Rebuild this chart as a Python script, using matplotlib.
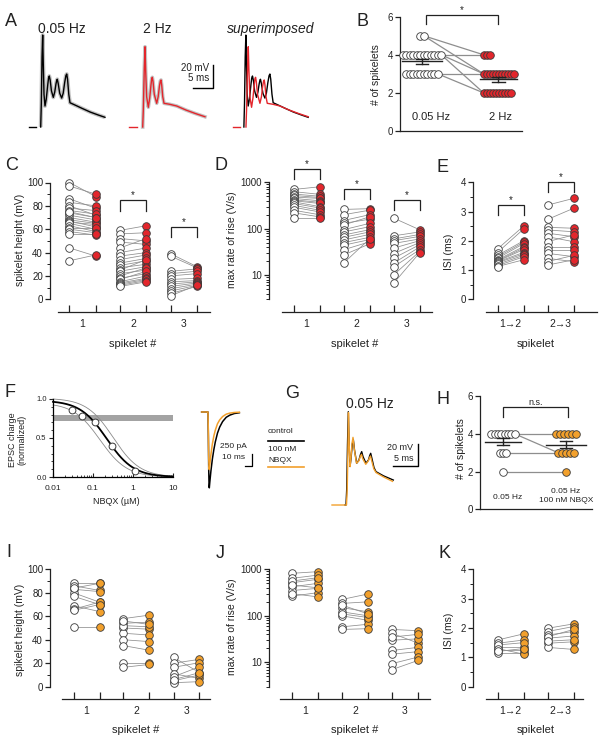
import numpy as np
import matplotlib
matplotlib.use("Agg")
import matplotlib.pyplot as plt
from matplotlib.ticker import MultipleLocator, LogLocator, NullFormatter, FixedLocator, FuncFormatter
from matplotlib.lines import Line2D

plt.rcParams['font.family'] = ['Liberation Sans', 'DejaVu Sans']
plt.rcParams['axes.linewidth'] = 0.9

W, H = 601, 741
fig = plt.figure(figsize=(W / 100, H / 100), dpi=100)

INK = '#222222'
RED = '#e3262c'
ORANGE = '#f2a02c'
LINK = '#8e8e8e'
EDGE = '#3a3a3a'

# ---------------- data ----------------
# A: averaged traces (ms from stimulus onset, mV above baseline)
a_005_t = [0.0, 0.15, 0.32, 0.48, 0.62, 0.8, 1.04, 1.35, 1.7, 1.9, 2.08, 2.3, 2.6, 3.05, 3.4, 3.7,
           3.9, 4.02, 4.25, 4.6, 5.08, 5.45, 5.8, 6.1, 6.3, 6.5, 6.8, 7.09, 8.5, 10.0, 12.0, 14.0, 15.57]
a_005_v = [0.0, 20, 60, 78.8, 55, 28, 18, 24, 36, 42, 43.7, 40, 31, 25.4, 30, 37,
           40.3, 40.9, 37, 29, 24.8, 29, 38, 44, 45.4, 41, 28, 20.8, 18.5, 16, 12.8, 10.2, 8.3]
a_2hz_t = [0.0, 0.15, 0.38, 0.56, 0.72, 0.95, 1.36, 1.7, 2.0, 2.18, 2.33, 2.5, 2.8, 3.39, 3.75, 4.05,
           4.28, 4.43, 4.6, 4.85, 5.16, 6.5, 8.23, 10.5, 12.8, 15.08]
a_2hz_v = [0.0, 15, 50, 68.8, 48, 26, 16.9, 25, 36, 41.5, 42.6, 39, 28, 20.3, 26, 35,
           39.5, 40.3, 36, 26, 20.3, 19.5, 18, 14.5, 11.5, 8.8]

# B: number of spikelets per cell (paired)
b_005 = [5, 5, 4, 4, 4, 4, 4, 4, 4, 4, 4, 4, 4, 4, 3, 3, 3, 3, 3, 3, 3, 3, 3, 3]
b_2hz = [4, 3, 4, 4, 3, 3, 3, 3, 3, 3, 3, 2, 2, 2, 3, 3, 3, 2, 2, 2, 2, 2, 2, 2]
b_labels = ['0.05 Hz', '2 Hz']

# C: spikelet height (mV)
c_ctrl = [[100, 97, 86, 83, 80, 78, 76, 74, 72, 70, 68, 67, 66, 65, 63, 61, 60, 58, 56, 44, 33, 75],
          [59, 56, 52, 49, 44, 40, 37, 34, 31, 29, 27, 25, 24, 22, 20, 18, 17, 15, 14, 13, 12, 11],
          [39, 37, 24, 22, 20, 17, 15, 13, 11, 9, 7, 5, 3]]
c_2hz = [[88, 90, 78, 80, 72, 76, 73, 70, 68, 66, 65, 62, 64, 60, 58, 61, 57, 55, 56, 37, 38, 70],
         [63, 57, 50, 47, 52, 44, 40, 38, 35, 33, 30, 34, 28, 25, 27, 22, 24, 20, 18, 17, 16, 15],
         [28, 27, 26, 24, 22, 18, 16, 15, 14, 13, 12, 11, 12]]
# D: max rate of rise (V/s)
d_ctrl = [[700, 630, 560, 520, 480, 450, 420, 400, 380, 350, 320, 290, 250, 220, 170],
          [260, 200, 150, 130, 120, 95, 85, 73, 65, 57, 50, 44, 35, 27, 18],
          [170, 70, 60, 55, 48, 38, 29, 23, 18, 15, 10, 6.6]]
d_2hz = [[800, 550, 500, 470, 450, 400, 370, 350, 300, 280, 250, 230, 200, 180, 170],
         [270, 250, 200, 160, 180, 130, 110, 95, 85, 75, 65, 58, 52, 47, 60],
         [95, 85, 75, 68, 60, 55, 50, 45, 40, 35, 32, 30]]
# E: inter-spikelet interval (ms)
e_ctrl = [[1.72, 1.6, 1.5, 1.45, 1.4, 1.35, 1.32, 1.3, 1.28, 1.25, 1.2, 1.15, 1.12],
          [3.22, 2.73, 2.46, 2.37, 2.26, 2.14, 1.97, 1.8, 1.69, 1.57, 1.4, 1.29, 1.17]]
e_2hz = [[2.5, 2.4, 2.0, 1.95, 1.9, 1.8, 1.75, 1.7, 1.6, 1.55, 1.5, 1.45, 1.35],
         [3.45, 3.11, 2.43, 2.31, 2.14, 1.97, 2.2, 1.8, 1.69, 1.46, 1.29, 1.5, 1.35]]
spk_labels = ['1', '2', '3']
isi_labels = ['1\u21922', '2\u21923']

# F: NBQX dose-response
f_conc = [0.03, 0.054, 0.11, 0.3, 1.1]
f_charge = [0.86, 0.785, 0.71, 0.40, 0.08]
f_fit = dict(top=0.98, ic50=0.22, n=1.3)
f_ci_hi = dict(top=1.01, ic50=0.32, n=1.3)
f_ci_lo = dict(top=0.95, ic50=0.15, n=1.3)
f_band = (0.72, 0.80)
f_epsc_t = [-8.7, 0.0, 0.5, 1.0, 1.5, 1.8, 2.5, 4, 6, 8, 10, 13, 16, 20, 25, 30, 36, 43]
f_epsc_ctrl = [0, 0, -500, -1200, -1550, -1580, -1460, -1230, -980, -785, -625, -440, -315, -200,
               -110, -65, -32, -15]
f_epsc_nbqx = [0, 0, -400, -950, -1180, -1200, -1085, -885, -665, -500, -380, -245, -165, -95,
               -45, -23, -10, -4]

# G: traces at 0.05 Hz, control vs 100 nM NBQX
g_ctrl_t = [-0.2, 0.0, 0.15, 0.3, 0.46, 0.62, 0.8, 1.0, 1.25, 1.46, 1.7, 2.14, 2.6, 2.9, 3.14, 3.4,
            4.0, 4.5, 4.75, 4.94, 5.2, 5.6, 6.0, 7.5, 9.46]
g_ctrl_v = [0, 0, 15, 55, 84.8, 55, 35, 42, 55, 59.7, 50, 38, 41, 46, 48.5, 44,
            38, 41, 45, 47, 42, 34, 30.3, 26.5, 22.7]
g_nbqx_t = [-2.8, 0.1, 0.25, 0.4, 0.5, 0.64, 0.82, 1.0, 1.2, 1.4, 1.65, 2.1, 2.55, 2.85, 3.1, 3.35,
            3.95, 4.45, 4.7, 4.9, 5.15, 5.55, 6.0, 7.5, 9.3]
g_nbqx_v = [0, 0, 15, 55, 84, 55, 35, 43, 56, 61.5, 51, 38, 40, 44, 46, 42,
            37, 40, 43, 44.5, 40, 33, 29.5, 25.5, 21.5]

# H: number of spikelets, control vs NBQX
h_ctrl = [4, 4, 4, 4, 4, 4, 4, 4, 3, 3, 3, 2]
h_nbqx = [4, 4, 4, 4, 4, 4, 3, 3, 3, 3, 3, 2]
h_labels = ['0.05 Hz', '0.05 Hz\n100 nM NBQX']

# I, J, K: control vs NBQX
i_ctrl = [[88, 86, 83, 80, 77, 69, 66, 65, 50.6, 84],
          [58, 54, 50, 45.5, 40, 35, 20, 16.5, 52, 56],
          [25, 20, 16.5, 11, 8.5, 5, 3.4, 6]]
i_nbqx = [[88, 82, 81, 72, 70, 64, 72, 70, 50.6, 88],
          [61, 55, 49, 44, 38.4, 31, 20, 19, 51, 53],
          [12, 23.3, 20.5, 7, 17, 10, 4.3, 12]]
j_ctrl = [[820, 640, 515, 420, 350, 265, 560, 460, 300],
          [225, 185, 150, 122, 100, 58, 51, 110, 170],
          [51, 42, 30, 18, 15, 9.4, 7, 35]]
j_nbqx = [[890, 750, 610, 500, 390, 315, 660, 400, 255],
          [295, 200, 122, 100, 80, 66, 53, 92, 110],
          [48, 26, 32, 21, 17, 13, 11, 40]]
k_ctrl = [[1.59, 1.48, 1.36, 1.25, 1.16, 1.42, 1.3, 1.2],
          [1.99, 1.88, 1.76, 1.65, 1.48, 1.34, 1.7, 1.55]]
k_nbqx = [[1.8, 1.59, 1.36, 1.25, 1.16, 1.5, 1.11, 1.3],
          [2.14, 2.05, 1.88, 1.73, 1.53, 1.27, 1.95, 1.6]]


# ---------------- helpers ----------------
def ax_px(l, t, r, b):
    ax = fig.add_axes([l / W, 1 - b / H, (r - l) / W, (b - t) / H])
    ax.patch.set_visible(False)
    return ax


def ptext(x, y, s, **kw):
    kw.setdefault('color', INK)
    fig.text(x / W, 1 - y / H, s, **kw)


def pline(xs, ys, **kw):
    fig.add_artist(Line2D([x / W for x in xs], [1 - y / H for y in ys], **kw))


def panel_label(x, y, s):
    ptext(x, y, s, fontsize=13, ha='left', va='baseline')


def bracket(ax, x0, x1, top, bottom, label='*', fs=7):
    ax.plot([x0, x0, x1, x1], [bottom, top, top, bottom], color=INK, lw=0.9,
            clip_on=False, solid_joinstyle='miter')
    ax.annotate(label, xy=((x0 + x1) / 2, top), xytext=(0, 1.2), textcoords='offset points',
                ha='center', va='baseline', fontsize=fs, color=INK, annotation_clip=False)


def style_y(ax, lo, hi):
    for s in ('top', 'right'):
        ax.spines[s].set_visible(False)
    ax.spines['left'].set_bounds(lo, hi)
    for s in ('left', 'bottom'):
        ax.spines[s].set_color(INK)
    ax.tick_params(axis='y', which='major', direction='out', length=3.5, width=0.9,
                   labelsize=7, pad=1.5, colors=INK)
    ax.tick_params(axis='y', which='minor', direction='out', length=2, width=0.7, colors=INK)


def pair_panel(rect, ctrl, test, fill, ylim, xlim, xlo, xlabels, log=False,
               ymajor=None, yminor=None, dx=0.26, drop=8.6):
    ax = ax_px(*rect)
    for g, (w, r) in enumerate(zip(ctrl, test), start=1):
        for a, c in zip(w, r):
            ax.plot([g - dx, g + dx], [a, c], color=LINK, lw=0.55, zorder=1, clip_on=False)
        ax.scatter(np.full(len(w), g - dx), w, s=30, facecolor='white', edgecolor=EDGE,
                   linewidth=0.6, zorder=3, clip_on=False)
        ax.scatter(np.full(len(r), g + dx), r, s=30, facecolor=fill, edgecolor=EDGE,
                   linewidth=0.6, zorder=4, clip_on=False)
    if log:
        ax.set_yscale('log')
        ax.yaxis.set_major_locator(FixedLocator([10, 100, 1000]))
        ax.yaxis.set_major_formatter(FuncFormatter(lambda v, p: f'{v:g}'))
        ax.yaxis.set_minor_locator(LogLocator(base=10, subs=np.arange(2, 10)))
        ax.yaxis.set_minor_formatter(NullFormatter())
    else:
        ax.yaxis.set_major_locator(MultipleLocator(ymajor))
        ax.yaxis.set_minor_locator(MultipleLocator(yminor))
    ax.set_xlim(*xlim)
    ax.set_ylim(*ylim)
    style_y(ax, *ylim)
    ax.spines['bottom'].set_position(('outward', drop))
    ax.spines['bottom'].set_bounds(xlo, xlim[1])
    n = len(ctrl)
    ax.set_xticks([g + s * dx for g in range(1, n + 1) for s in (-1, 1)])
    ax.set_xticklabels([])
    ax.set_xticks(list(range(1, n + 1)), labels=xlabels, minor=True)
    ax.tick_params(axis='x', which='major', direction='in', length=5, width=0.9, colors=INK)
    ax.tick_params(axis='x', which='minor', length=0, pad=5.5, labelsize=7.5, colors=INK)
    return ax


def stack_x(values, center, step, align='center'):
    values = np.asarray(values)
    xs = np.zeros(len(values), dtype=float)
    for v in np.unique(values):
        idx = np.where(values == v)[0]
        k = np.arange(len(idx))
        if align == 'center':
            xs[idx] = center + (k - (len(idx) - 1) / 2) * step
        else:
            xs[idx] = center + k * step
    return xs


def count_panel(ax, ctrl, test, fill, cx, tx, step_c, step_t, align_t, mean_half, cap):
    ctrl = np.asarray(ctrl)
    test = np.asarray(test)
    xc = stack_x(ctrl, cx, step_c, 'center')
    xt = stack_x(test, tx, step_t, align_t)
    drawn = set()
    for a, b in zip(ctrl, test):
        if (a, b) in drawn:
            continue
        drawn.add((a, b))
        ax.plot([xc[ctrl == a].max(), xt[test == b].min()], [a, b], color=LINK, lw=0.9, zorder=1)
    ax.scatter(xc, ctrl, s=30, facecolor='white', edgecolor=EDGE, linewidth=0.6, zorder=3, clip_on=False)
    ax.scatter(xt, test, s=30, facecolor=fill, edgecolor=EDGE, linewidth=0.6, zorder=3, clip_on=False)
    for vals, xm, hw in ((ctrl, mean_half[0][0], mean_half[0][1]),
                         (test, mean_half[1][0], mean_half[1][1])):
        m = vals.mean()
        se = vals.std(ddof=1) / np.sqrt(len(vals))
        ax.plot([xm - hw, xm + hw], [m, m], color=INK, lw=1.0, zorder=5)
        ax.plot([xm, xm], [m - se, m + se], color=INK, lw=1.0, zorder=5)
        for yy in (m - se, m + se):
            ax.plot([xm - cap, xm + cap], [yy, yy], color=INK, lw=1.0, zorder=5)


# ---------------- A ----------------
axA = ax_px(0, 15, 320, 140)
axA.set_xlim(-9.855, 67.63)
axA.set_ylim(-11.14, 96)
axA.axis('off')
onset_005, onset_2hz, onset_sup_k, onset_sup_r = 0.0, 24.7, 49.2, 49.7
t005 = np.array(a_005_t)
t2 = np.array(a_2hz_t)
axA.plot(t005 + onset_005, a_005_v, color='#c2c2c2', lw=2.8, solid_capstyle='butt')
axA.plot(t005 + onset_005, a_005_v, color='black', lw=1.0)
axA.plot([-2.83, -1.14], [0, 0], color='black', lw=1.0)
axA.plot(t2 + onset_2hz, a_2hz_v, color='#c4c4c4', lw=2.6)
axA.plot(t2 + onset_2hz, a_2hz_v, color=RED, lw=1.0)
axA.plot([onset_2hz - 3.24, onset_2hz - 1.45], [0, 0], color=RED, lw=1.0)
axA.plot(t005 + onset_sup_k, a_005_v, color='black', lw=1.0)
axA.plot(t2 + onset_sup_r, a_2hz_v, color=RED, lw=1.0)
axA.plot([46.6, 48.3], [0, 0], color=RED, lw=1.0)
sb_t, sb_v, sb_ms, sb_mv = 41.79, 33.16, 5, 20
axA.plot([sb_t - sb_ms, sb_t, sb_t], [sb_v, sb_v, sb_v + sb_mv], color='black', lw=1.0)
axA.text(40.9, 50.8, '20 mV', fontsize=7, ha='right', va='center', color=INK)
axA.text(40.9, 41.6, '5 ms', fontsize=7, ha='right', va='center', color=INK)
ptext(62, 29, '0.05 Hz', fontsize=10, ha='center', va='center')
ptext(157, 29, '2 Hz', fontsize=10, ha='center', va='center')
ptext(271, 29, 'superimposed', fontsize=10, ha='center', va='center', style='italic')
panel_label(5, 26, 'A')

# ---------------- B ----------------
axB = ax_px(400, 16.7, 522, 131)
axB.set_xlim(-0.282, 1.282)
axB.set_ylim(0, 6)
count_panel(axB, b_005, b_2hz, RED, cx=0.0, tx=0.79, step_c=3.5 / 78, step_t=3.0 / 78,
            align_t='left', mean_half=((0.0, 0.26), (0.98, 0.24)), cap=0.08)
style_y(axB, 0, 6)
axB.yaxis.set_major_locator(MultipleLocator(2))
axB.set_xticks([])
axB.spines['bottom'].set_color(INK)
bracket(axB, 0.05, 0.97, 6.09, 5.63)
axB.text(0.11, 0.74, b_labels[0], fontsize=8, ha='center', va='center', color=INK)
axB.text(1.0, 0.74, b_labels[1], fontsize=8, ha='center', va='center', color=INK)
ptext(376, 75, '# of spikelets', fontsize=7.5, rotation=90, ha='center', va='center')
panel_label(357, 26, 'B')

# ---------------- C, D, E ----------------
axC = pair_panel((50, 182.5, 210, 299.3), c_ctrl, c_2hz, RED, (0, 100), (0.356, 3.52), 0.51,
                 spk_labels, ymajor=20, yminor=10, drop=8.8)
bracket(axC, 2 - 0.26, 2 + 0.26, 85, 76)
bracket(axC, 3 - 0.26, 3 + 0.26, 62, 53.3)
ptext(20, 240, 'spikelet height (mV)', fontsize=7.5, rotation=90, ha='center', va='center')
ptext(133, 344, 'spikelet #', fontsize=8, ha='center', va='center')
panel_label(5, 170, 'C')

axD = pair_panel((269, 182.3, 432, 299.3), d_ctrl, d_2hz, RED, (3, 1000), (0.25, 3.51), 0.51,
                 spk_labels, log=True, drop=8.8)
bracket(axD, 1 - 0.26, 1 + 0.26, 1932, 1178)
bracket(axD, 2 - 0.26, 2 + 0.26, 718, 437)
bracket(axD, 3 - 0.26, 3 + 0.26, 416, 254)
ptext(232, 240, 'max rate of rise (V/s)', fontsize=7.5, rotation=90, ha='center', va='center')
ptext(355, 344, 'spikelet #', fontsize=8, ha='center', va='center')
panel_label(215, 170, 'D')

axE = pair_panel((473, 182.3, 597, 299.3), e_ctrl, e_2hz, RED, (0, 4), (0.25, 2.73), 0.51,
                 isi_labels, ymajor=1, yminor=0.5, drop=8.8)
bracket(axE, 1 - 0.26, 1 + 0.26, 3.22, 2.88)
bracket(axE, 2 - 0.26, 2 + 0.26, 4.02, 3.68)
ptext(449, 252, 'ISI (ms)', fontsize=7.5, rotation=90, ha='center', va='center')
ptext(536, 344, 'spikelet', fontsize=8, ha='center', va='center')
panel_label(437, 172, 'E')

# ---------------- F ----------------
axF = ax_px(53, 395, 173, 477)
axF.set_xscale('log')
axF.set_xlim(0.01, 10)
axF.set_ylim(0, 1.05)
axF.axhspan(f_band[0], f_band[1], color='#a3a3a3', lw=0, zorder=1)
xx = np.logspace(-2, 1, 300)
for p, c, lw in ((f_ci_hi, '#8a8a8a', 0.6), (f_ci_lo, '#8a8a8a', 0.6), (f_fit, 'black', 1.3)):
    axF.plot(xx, p['top'] / (1 + (xx / p['ic50']) ** p['n']), color=c, lw=lw, zorder=2, clip_on=False)
axF.scatter(f_conc, f_charge, s=24, facecolor='white', edgecolor=EDGE, linewidth=0.7, zorder=4)
for s in ('top', 'right'):
    axF.spines[s].set_visible(False)
axF.spines['left'].set_bounds(0, 1.0)
axF.yaxis.set_major_locator(FixedLocator([0.0, 0.5, 1.0]))
axF.yaxis.set_major_formatter(FuncFormatter(lambda v, p: f'{v:.1f}'))
axF.yaxis.set_minor_locator(MultipleLocator(0.1))
axF.xaxis.set_major_locator(FixedLocator([0.01, 0.1, 1, 10]))
axF.xaxis.set_major_formatter(FuncFormatter(lambda v, p: f'{v:g}'))
axF.xaxis.set_minor_locator(LogLocator(base=10, subs=np.arange(2, 10)))
axF.xaxis.set_minor_formatter(NullFormatter())
axF.tick_params(axis='y', which='major', direction='out', length=3, width=0.8, labelsize=5.5, pad=1.5, colors=INK)
axF.tick_params(axis='y', which='minor', direction='out', length=1.6, width=0.6, colors=INK)
axF.tick_params(axis='x', which='major', direction='in', length=3, width=0.8, labelsize=6, pad=6, colors=INK)
axF.tick_params(axis='x', which='minor', direction='in', length=1.8, width=0.6, colors=INK)
ptext(116, 502, 'NBQX (\u00b5M)', fontsize=6.5, ha='center', va='center')
ptext(17, 440, 'EPSC charge\n(normalized)', fontsize=6.5, rotation=90, ha='center', va='center',
      linespacing=1.1)
panel_label(5, 397, 'F')

axFi = ax_px(195, 395, 262, 500)
axFi.set_xlim(-17.8, 74)
axFi.set_ylim(-1833, 354)
axFi.axis('off')
axFi.plot(f_epsc_t, f_epsc_ctrl, color='black', lw=1.1)
axFi.plot(f_epsc_t, f_epsc_nbqx, color=ORANGE, lw=1.1)
fs_t, fs_i = 60.3, -1125
axFi.plot([fs_t - 10, fs_t, fs_t], [fs_i, fs_i, fs_i + 250], color='black', lw=0.9)
axFi.text(53.4, -729, '250 pA', fontsize=6, ha='right', va='center', color=INK)
axFi.text(50.7, -958, '10 ms', fontsize=6, ha='right', va='center', color=INK)

# ---------------- G ----------------
axG = ax_px(325, 395, 430, 512)
axG.set_xlim(-4.2, 16.8)
axG.set_ylim(-6.36, 100)
axG.axis('off')
axG.plot(g_ctrl_t, g_ctrl_v, color='black', lw=1.0)
axG.plot(g_nbqx_t, g_nbqx_v, color=ORANGE, lw=1.0)
gs_t, gs_v = 14.4, 35.45
axG.plot([gs_t - 5, gs_t, gs_t], [gs_v, gs_v, gs_v + 20], color='black', lw=1.0)
axG.text(13.4, 52.7, '20 mV', fontsize=6.5, ha='right', va='center', color=INK)
axG.text(13.4, 42.7, '5 ms', fontsize=6.5, ha='right', va='center', color=INK)
ptext(370, 404, '0.05 Hz', fontsize=10, ha='center', va='center')
ptext(268, 432, 'control', fontsize=6, ha='left', va='center')
pline([268, 304], [441, 441], color='black', lw=1.2)
ptext(268, 450, '100 nM', fontsize=6, ha='left', va='center')
ptext(268, 460, 'NBQX', fontsize=6, ha='left', va='center')
pline([268, 304], [467, 467], color=ORANGE, lw=1.2)
panel_label(285, 398, 'G')

# ---------------- H ----------------
axH = ax_px(480, 396, 592, 509.3)
axH.set_xlim(-0.365, 1.413)
axH.set_ylim(0, 6)
count_panel(axH, h_ctrl, h_nbqx, ORANGE, cx=0.0, tx=1.0, step_c=3.3 / 63, step_t=4.0 / 63,
            align_t='center', mean_half=((0.0, 0.29), (1.0, 0.32)), cap=0.1)
style_y(axH, 0, 6)
axH.yaxis.set_major_locator(MultipleLocator(2))
axH.set_xticks([])
bracket(axH, 0.0, 1.03, 5.41, 4.88, label='n.s.', fs=6.5)
axH.text(0.07, 0.65, h_labels[0], fontsize=6, ha='center', va='center', color=INK)
axH.text(1.0, 0.70, h_labels[1], fontsize=6, ha='center', va='center', color=INK, linespacing=1.25)
ptext(461, 449, '# of spikelets', fontsize=7.5, rotation=90, ha='center', va='center')
panel_label(437, 404, 'H')

# ---------------- I, J, K ----------------
axI = pair_panel((50, 569.3, 210, 686.7), i_ctrl, i_nbqx, ORANGE, (0, 100), (0.27, 3.47), 0.51,
                 spk_labels, ymajor=20, yminor=10, drop=8.5)
ptext(20, 630, 'spikelet height (mV)', fontsize=7.5, rotation=90, ha='center', va='center')
ptext(136, 730, 'spikelet #', fontsize=8, ha='center', va='center')
panel_label(6, 557, 'I')

axJ = pair_panel((269, 569.3, 430, 686.7), j_ctrl, j_nbqx, ORANGE, (3, 1000), (0.28, 3.5), 0.5,
                 spk_labels, log=True, drop=8.5)
ptext(232, 627, 'max rate of rise (V/s)', fontsize=7.5, rotation=90, ha='center', va='center')
ptext(355, 730, 'spikelet #', fontsize=8, ha='center', va='center')
panel_label(216, 558, 'J')

axK = pair_panel((473, 569.3, 583, 686.7), k_ctrl, k_nbqx, ORANGE, (0, 4), (0.25, 2.45), 0.51,
                 isi_labels, ymajor=1, yminor=0.5, drop=8.5)
ptext(449, 631, 'ISI (ms)', fontsize=7.5, rotation=90, ha='center', va='center')
ptext(536, 730, 'spikelet', fontsize=8, ha='center', va='center')
panel_label(438, 558, 'K')

fig.savefig('out.png', dpi=100)
